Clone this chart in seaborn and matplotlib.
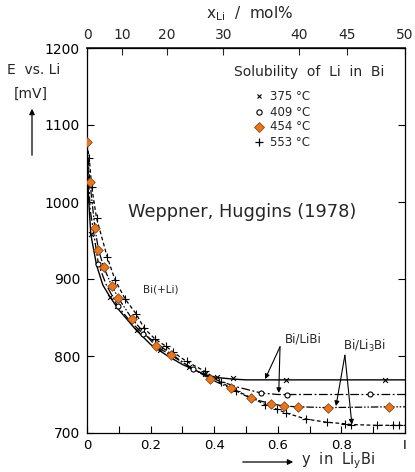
import numpy as np
import pandas as pd
import matplotlib
matplotlib.use("Agg")
import matplotlib.pyplot as plt
import seaborn as sns
from matplotlib.patches import FancyArrowPatch
from matplotlib.lines import Line2D

# 375 C (x, solid line)
y_375 = [0.0, 0.005, 0.012, 0.03, 0.05, 0.072, 0.1, 0.154, 0.2, 0.25, 0.3, 0.37, 0.41, 0.46, 0.5, 1.0]
e_375 = [1072, 1005, 958, 918, 892, 877, 860, 834, 815, 801, 789, 776, 772, 770, 769, 769]
my_375 = [0.012, 0.072, 0.093, 0.156, 0.23, 0.32, 0.37, 0.408, 0.46, 0.626, 0.937]
me_375 = [958, 877, 865, 834, 808, 786, 776, 773, 771, 769, 769]

# 409 C (o, dash-dot)
y_409 = [0.0, 0.01, 0.036, 0.06, 0.096, 0.14, 0.177, 0.25, 0.332, 0.4, 0.47, 0.547, 0.6, 1.0]
e_409 = [1068, 990, 919, 893, 865, 843, 829, 807, 783, 770, 760, 752, 750, 750]
my_409 = [0.036, 0.096, 0.177, 0.332, 0.547, 0.628, 0.89]
me_409 = [919, 865, 829, 783, 752, 749, 751]

# 454 C (diamond, dash-dot-dot)
y_454 = [0.0, 0.009, 0.025, 0.036, 0.053, 0.078, 0.099, 0.142, 0.216, 0.264, 0.387,
         0.452, 0.515, 0.578, 0.62, 0.663, 0.757, 0.95, 1.0]
e_454 = [1078, 1026, 966, 938, 915, 891, 875, 848, 813, 801, 770,
         758, 745, 738, 735, 734, 733, 734, 734]
my_454 = y_454[:-1]
me_454 = e_454[:-1]

# 553 C (+, dashed)
y_553 = [0.0, 0.007, 0.015, 0.03, 0.064, 0.088, 0.12, 0.154, 0.18, 0.214, 0.247, 0.271,
         0.313, 0.371, 0.42, 0.47, 0.52, 0.56, 0.596, 0.626, 0.69, 0.754, 0.811, 0.83,
         0.911, 0.963, 0.98, 1.0]
e_553 = [1075, 1057, 1019, 979, 928, 899, 874, 855, 836, 822, 813, 805,
         793, 780, 766, 755, 745, 737, 731, 726, 718, 714, 712, 711,
         710, 710, 710, 710]
my_553 = y_553[1:-1]
me_553 = e_553[1:-1]

legend_labels = ["375 °C", "409 °C", "454 °C", "553 °C"]
bottom_ticks = [0, 0.2, 0.4, 0.6, 0.8, 1.0]
bottom_ticklabels = ["0", "0.2", "0.4", "0.6", "0.8", "I"]
bottom_minor = [0.1, 0.3, 0.5, 0.7, 0.9]
top_mol = [0, 10, 20, 30, 40, 45, 50]
left_ticks = [700, 800, 900, 1000, 1100, 1200]

orange = "#e8761e"

sns.set_theme(style="ticks")
plt.rcParams["font.family"] = ["DejaVu Sans"]

fig = plt.figure(figsize=(4.15, 4.72), dpi=100)
ax = fig.add_axes([87 / 415, 1 - 433 / 472, 318 / 415, 385 / 472])

# curves
sns.lineplot(x=y_375, y=e_375, ax=ax, color="black", lw=1.0, ls="-", sort=False)
sns.lineplot(x=y_409, y=e_409, ax=ax, color="black", lw=0.9, ls=(0, (7, 2, 1.5, 2)), sort=False)
sns.lineplot(x=y_454, y=e_454, ax=ax, color="black", lw=0.9, ls=(0, (6, 1.5, 1.2, 1.5, 1.2, 1.5)), sort=False)
sns.lineplot(x=y_553, y=e_553, ax=ax, color="black", lw=0.9, ls=(0, (3, 2)), sort=False)

# markers
sns.scatterplot(x=my_375, y=me_375, ax=ax, marker="x", color="black", s=12, linewidth=0.8, zorder=4)
sns.scatterplot(x=my_409, y=me_409, ax=ax, marker="o", facecolor="white", edgecolor="black", s=13, linewidth=0.8, zorder=4)
sns.scatterplot(x=my_553, y=me_553, ax=ax, marker="+", color="black", s=26, linewidth=0.8, zorder=4)
sns.scatterplot(x=my_454, y=me_454, ax=ax, marker="D", color=orange, edgecolor="#7a3a10", s=24, linewidth=0.5, zorder=5)

ax.set_xlim(0, 1)
ax.set_ylim(700, 1200)
ax.set_xticks(bottom_ticks)
ax.set_xticklabels(bottom_ticklabels)
ax.set_xticks(bottom_minor, minor=True)
ax.set_yticks(left_ticks)
ax.set_yticklabels([str(t) for t in left_ticks])
ax.tick_params(axis="both", which="both", direction="in", length=5, width=0.8, labelsize=10, colors="black")
ax.tick_params(axis="x", which="major", pad=4, labelsize=9.5)
ax.tick_params(axis="y", right=True, pad=5)
for sp in ax.spines.values():
    sp.set_linewidth(0.9)
    sp.set_color("black")
    sp.set_visible(True)
ax.set_xlabel("")
ax.set_ylabel("")

# top axis: x_Li in mol%
top = ax.secondary_xaxis("top", functions=(lambda y: 100 * y / (1 + y), lambda x: x / (100 - x)))
top.set_xticks(top_mol)
top.set_xticklabels([str(t) for t in top_mol])
top.tick_params(direction="in", length=5, width=0.8, labelsize=10, pad=4)
fig.text(250 / 415, 1 - 14 / 472, r"x$_{\mathrm{Li}}$  /  mol%", ha="center", va="center", fontsize=11)

# y axis label
fig.text(34 / 415, 1 - 70 / 472, "E  vs. Li", ha="center", va="center", fontsize=10)
fig.text(31 / 415, 1 - 94 / 472, "[mV]", ha="center", va="center", fontsize=10)
fig.add_artist(FancyArrowPatch((32 / 415, 1 - 158 / 472), (32 / 415, 1 - 106 / 472),
               transform=fig.transFigure, arrowstyle="-|>", mutation_scale=8, lw=0.9, color="black"))

# bottom label
fig.add_artist(FancyArrowPatch((240 / 415, 1 - 462 / 472), (296 / 415, 1 - 462 / 472),
               transform=fig.transFigure, arrowstyle="-|>", mutation_scale=8, lw=0.9, color="black"))
fig.text(301 / 415, 1 - 461 / 472, r"y  in  Li$_{\mathrm{y}}$Bi", ha="left", va="center", fontsize=10.5)

# legend block
fig.text(384 / 415, 1 - 72 / 472, "Solubility  of  Li  in  Bi", ha="right", va="center", fontsize=10)
rows = [96, 112, 127, 142]
mk = [dict(marker="x", color="black", ms=3.5, mew=0.8, ls="none"),
      dict(marker="o", mfc="white", mec="black", ms=3.8, mew=0.8, ls="none"),
      dict(marker="D", mfc=orange, mec="#7a3a10", ms=5, mew=0.5, ls="none"),
      dict(marker="+", color="black", ms=6, mew=0.9, ls="none")]
for r, lab, style in zip(rows, legend_labels, mk):
    fig.add_artist(Line2D([259 / 415], [1 - r / 472], transform=fig.transFigure, **style))
    fig.text(270 / 415, 1 - r / 472, lab, ha="left", va="center", fontsize=8.5)

ax.text(0.13, 987, "Weppner, Huggins (1978)", ha="left", va="center", fontsize=12.8)
ax.text(0.175, 886, "Bi(+Li)", ha="left", va="center", fontsize=7.5)

# phase labels with arrows
ax.text(0.679, 822, "Bi/LiBi", ha="center", va="center", fontsize=8.5)
ax.text(0.874, 813, r"Bi/Li$_3$Bi", ha="center", va="center", fontsize=8.5)
arrow = dict(arrowstyle="-|>", mutation_scale=7, lw=0.8, color="black", shrinkA=0, shrinkB=0)
ax.annotate("", xy=(0.56, 770), xytext=(0.607, 812), arrowprops=arrow)
ax.annotate("", xy=(0.603, 752), xytext=(0.607, 812), arrowprops=arrow)
ax.annotate("", xy=(0.783, 735), xytext=(0.811, 801), arrowprops=arrow)
ax.annotate("", xy=(0.833, 711), xytext=(0.811, 801), arrowprops=arrow)

fig.savefig("out.png", dpi=100)
